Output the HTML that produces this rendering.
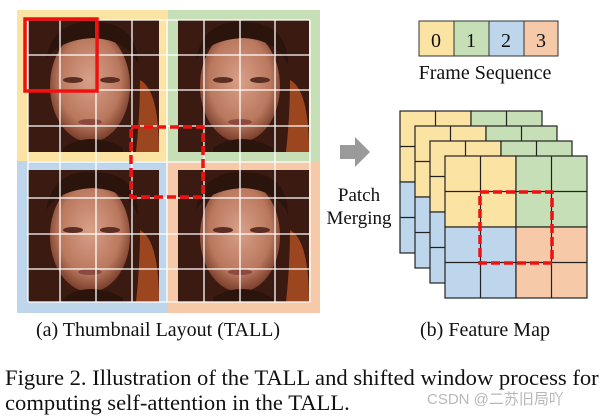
<!DOCTYPE html>
<html><head><meta charset="utf-8"><style>
html,body{margin:0;padding:0;background:#fff;width:608px;height:416px;overflow:hidden}
svg{display:block}
text{font-family:"Liberation Serif",serif;fill:#111}
</style></head><body>
<svg width="608" height="416" viewBox="0 0 608 416">
<defs>
<radialGradient id="skin" cx="0.5" cy="0.45" r="0.55">
<stop offset="0" stop-color="#d9a088"/><stop offset="0.7" stop-color="#b9785e"/><stop offset="1" stop-color="#7a3e2a"/>
</radialGradient>
<g id="face">
<rect x="0" y="0" width="131" height="132" fill="#3b1a12"/>
<path d="M112 60 Q131 70 131 132 L108 132 Q112 95 112 60Z" fill="#9c4620"/>
<ellipse cx="62" cy="66" rx="40" ry="56" fill="url(#skin)"/>
<path d="M18 40 Q25 0 65 2 Q110 2 110 45 Q100 20 65 18 Q30 20 18 40Z" fill="#2a140c"/>
<path d="M35 128 Q62 110 95 128 L95 132 L35 132Z" fill="#2a140c"/>
<ellipse cx="45" cy="60" rx="10" ry="3" fill="#5a2e22"/>
<ellipse cx="82" cy="60" rx="10" ry="3" fill="#5a2e22"/>
<ellipse cx="62" cy="102" rx="12" ry="3" fill="#8a4a40"/>
</g>
<g id="layer" stroke="#222" stroke-width="1.2">
<rect x="0" y="0" width="71" height="71" fill="#fbe3a3"/>
<rect x="71" y="0" width="71" height="71" fill="#c6dfb6"/>
<rect x="0" y="71" width="71" height="71" fill="#bdd6ec"/>
<rect x="71" y="71" width="71" height="71" fill="#f6c9a9"/>
<line x1="35.5" y1="0" x2="35.5" y2="142"/><line x1="106.5" y1="0" x2="106.5" y2="142"/>
<line x1="0" y1="35.5" x2="142" y2="35.5"/><line x1="0" y1="106.5" x2="142" y2="106.5"/>
</g>
</defs>
<rect x="17" y="10" width="151" height="151" fill="#fbe3a3"/>
<rect x="168" y="10" width="152" height="151" fill="#c6dfb6"/>
<rect x="17" y="161" width="151" height="152" fill="#bdd6ec"/>
<rect x="168" y="161" width="152" height="152" fill="#f6c9a9"/>
<use href="#face" x="28" y="20"/>
<use href="#face" x="178" y="20"/>
<use href="#face" x="28" y="170"/>
<use href="#face" x="178" y="170"/>
<g stroke="#fff" stroke-width="1.3">
<line x1="28" y1="20" x2="28" y2="302"/><line x1="60" y1="20" x2="60" y2="302"/><line x1="96" y1="20" x2="96" y2="302"/><line x1="132" y1="20" x2="132" y2="302"/><line x1="167" y1="20" x2="167" y2="302"/><line x1="204" y1="20" x2="204" y2="302"/><line x1="240" y1="20" x2="240" y2="302"/><line x1="275" y1="20" x2="275" y2="302"/><line x1="310" y1="20" x2="310" y2="302"/>
<line x1="28" y1="20" x2="310" y2="20"/><line x1="28" y1="55" x2="310" y2="55"/><line x1="28" y1="90" x2="310" y2="90"/><line x1="28" y1="126" x2="310" y2="126"/><line x1="28" y1="162" x2="310" y2="162"/><line x1="28" y1="198" x2="310" y2="198"/><line x1="28" y1="234" x2="310" y2="234"/><line x1="28" y1="269" x2="310" y2="269"/><line x1="28" y1="302" x2="310" y2="302"/>
</g>
<rect x="25" y="19" width="72" height="72" fill="none" stroke="#f01010" stroke-width="3.5"/>
<rect x="131" y="127" width="72" height="70" fill="none" stroke="#f01010" stroke-width="3.5" stroke-dasharray="9,4"/>
<text x="158" y="336" font-size="20" text-anchor="middle">(a) Thumbnail Layout (TALL)</text>

<g stroke="#333" stroke-width="1">
<rect x="419" y="21" width="35" height="35" fill="#fbe3a3"/>
<rect x="454" y="21" width="35" height="35" fill="#c6dfb6"/>
<rect x="489" y="21" width="35" height="35" fill="#bdd6ec"/>
<rect x="524" y="21" width="34" height="35" fill="#f6c9a9"/>
</g>
<text x="436" y="47" font-size="20" text-anchor="middle">0</text>
<text x="471" y="47" font-size="20" text-anchor="middle">1</text>
<text x="506" y="47" font-size="20" text-anchor="middle">2</text>
<text x="541" y="47" font-size="20" text-anchor="middle">3</text>
<text x="485" y="79" font-size="20" text-anchor="middle">Frame Sequence</text>

<polygon points="340,145 355,145 355,137 370,152 355,167 355,159 340,159" fill="#9a9a9a"/>
<text x="359" y="201" font-size="19" text-anchor="middle">Patch</text>
<text x="359" y="224" font-size="19" text-anchor="middle">Merging</text>

<use href="#layer" x="400" y="111"/>
<use href="#layer" x="415" y="126"/>
<use href="#layer" x="430" y="141"/>
<use href="#layer" x="445" y="156"/>
<rect x="480" y="192" width="72" height="71" fill="none" stroke="#f01010" stroke-width="3.5" stroke-dasharray="9,4"/>
<text x="485" y="336" font-size="20" text-anchor="middle">(b) Feature Map</text>

<text x="5" y="385" font-size="22.6">Figure 2. Illustration of the TALL and shifted window process for</text>
<text x="5" y="410" font-size="22.6">computing self-attention in the TALL.</text>
<text x="427" y="404" font-size="15" style="font-family:'Liberation Sans','Noto Sans CJK SC',sans-serif;fill:#b8b8b8">CSDN @二苏旧局吖</text>
</svg>
</body></html>
